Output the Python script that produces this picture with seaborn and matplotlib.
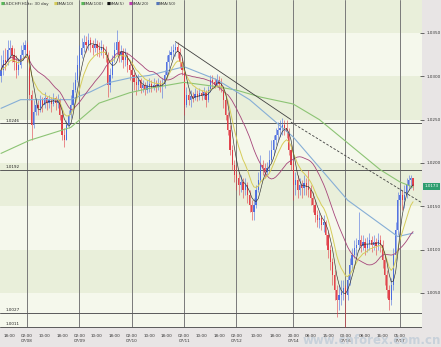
import numpy as np
import pandas as pd
import matplotlib
matplotlib.use("Agg")
import matplotlib.pyplot as plt
import matplotlib.transforms as mtransforms
import seaborn as sns

# ---------------- data (prices in pips above 1.0000, e.g. 307 -> 1.0307) ----------------
close_pips = [307, 319, 316, 330, 333, 325, 316, 307, 313, 325,
              330, 336, 325, 278, 244, 259, 267, 263, 273, 267,
              275, 269, 273, 268, 275, 269, 273, 255, 232, 226,
              244, 255, 267, 284, 296, 313, 325, 333, 340, 336,
              342, 336, 333, 337, 333, 330, 334, 328, 325, 290,
              301, 319, 330, 340, 325, 328, 319, 323, 313, 307,
              301, 293, 290, 296, 286, 290, 284, 289, 291, 286,
              290, 288, 291, 289, 291, 301, 316, 325, 328, 330,
              334, 328, 316, 307, 267, 278, 273, 277, 275, 280,
              276, 281, 277, 282, 273, 284, 296, 293, 290, 296,
              291, 286, 273, 255, 238, 215, 198, 186, 183, 175,
              178, 169, 175, 163, 151, 143, 151, 169, 180, 198,
              194, 190, 194, 203, 215, 226, 232, 238, 240, 244,
              240, 236, 215, 198, 175, 180, 169, 175, 171, 177,
              172, 169, 160, 151, 140, 134, 136, 128, 132, 117,
              100, 86, 71, 53, 42, 48, 51, 56, 48, 65,
              82, 94, 102, 105, 111, 104, 109, 102, 106, 111,
              105, 109, 104, 111, 105, 88, 71, 53, 42, 59,
              94, 123, 157, 163, 157, 163, 175, 180, 183, 173]
high_pips = [325, 330, 333, 342, 342, 336, 333, 325, 321, 336,
             340, 342, 340, 330, 284, 273, 275, 273, 278, 276,
             282, 277, 278, 276, 281, 277, 280, 275, 261, 240,
             250, 261, 278, 293, 305, 325, 336, 344, 348, 346,
             350, 345, 342, 344, 342, 340, 342, 337, 335, 328,
             310, 325, 340, 353, 342, 336, 333, 333, 328, 319,
             316, 305, 301, 303, 298, 296, 293, 296, 298, 296,
             298, 296, 298, 296, 298, 307, 325, 330, 335, 337,
             340, 340, 333, 321, 310, 288, 284, 284, 282, 286,
             284, 286, 284, 288, 284, 289, 301, 301, 298, 303,
             300, 298, 289, 275, 259, 244, 221, 203, 198, 190,
             186, 183, 183, 178, 169, 157, 160, 175, 190, 209,
             203, 200, 201, 215, 226, 232, 240, 247, 250, 252,
             250, 250, 240, 221, 203, 190, 186, 183, 180, 186,
             183, 192, 175, 166, 157, 146, 143, 140, 140, 134,
             120, 105, 90, 76, 59, 59, 65, 65, 59, 71,
             90, 102, 111, 113, 143, 117, 117, 113, 115, 119,
             116, 117, 113, 119, 117, 111, 94, 76, 59, 67,
             102, 132, 166, 171, 169, 175, 183, 186, 186, 183]
low_pips = [293, 301, 307, 313, 321, 316, 307, 298, 301, 310,
            319, 325, 316, 273, 226, 240, 255, 255, 259, 259,
            263, 261, 263, 259, 266, 261, 263, 250, 226, 218,
            226, 240, 252, 263, 282, 293, 310, 321, 328, 328,
            330, 328, 325, 328, 323, 322, 325, 321, 316, 276,
            282, 298, 316, 325, 316, 316, 310, 312, 305, 296,
            293, 284, 278, 284, 281, 282, 278, 281, 282, 282,
            284, 282, 284, 282, 275, 286, 298, 310, 319, 321,
            323, 321, 310, 301, 255, 265, 267, 265, 270, 273,
            271, 273, 273, 274, 265, 270, 282, 286, 286, 288,
            284, 282, 263, 250, 232, 209, 192, 178, 169, 163,
            166, 160, 163, 154, 143, 134, 134, 148, 166, 178,
            186, 183, 185, 190, 201, 209, 221, 226, 230, 232,
            232, 229, 209, 192, 157, 163, 160, 163, 160, 163,
            163, 161, 151, 143, 132, 126, 125, 123, 120, 105,
            90, 76, 59, 42, 22, 30, 36, 42, 11, 42,
            59, 76, 90, 94, 100, 97, 100, 94, 97, 100,
            97, 100, 94, 100, 97, 79, 59, 44, 30, 36,
            53, 88, 117, 151, 146, 148, 160, 169, 171, 169]
first_open_pips = 300

sma50_bars = [0, 9, 22, 32, 41, 50, 59, 68, 84, 99, 114, 134, 159, 182, 189]
sma50_pips = [263, 273, 273, 273, 282, 293, 298, 301, 311, 296, 273, 230, 157, 115, 119]
ema100_bars = [0, 13, 32, 45, 59, 68, 84, 99, 108, 119, 134, 146, 160, 174, 183, 189]
ema100_pips = [211, 226, 241, 269, 281, 286, 293, 288, 284, 276, 268, 250, 221, 192, 178, 172]

trend_bars = [80, 133]
trend_pips = [340, 250]
trend2_bars = [133, 193]
trend2_pips = [247, 154]

level_values = [1.0246, 1.0192, 1.0027, 1.0011]
level_labels = ["1.0246", "1.0192", "1.0027", "1.0011"]
ytick_values = [1.0050, 1.0100, 1.0150, 1.0200, 1.0250, 1.0300, 1.0350]
ytick_labels = ["1.0050", "1.0100", "1.0150", "1.0200", "1.0250", "1.0300", "1.0350"]
band_lows = [1.0050, 1.0150, 1.0250, 1.0350]

day_bars = [12, 36, 60, 84, 108, 134, 158, 183]
xtick_bars = [4, 12, 20, 28, 36, 44, 52, 60, 68, 76, 84, 92, 100, 108, 117, 126,
              134, 142, 150, 158, 167, 175, 183]
xtick_times = ["18:00", "02:00", "10:00", "18:00", "02:00", "10:00", "18:00", "02:00",
               "10:00", "18:00", "02:00", "10:00", "18:00", "02:00", "10:00", "18:00",
               "20:00", "08:00", "15:00", "00:00", "08:00", "16:00", "05:00"]
xtick_dates = ["", "07/08", "", "", "07/09", "", "", "07/10", "", "", "07/11", "", "",
               "07/12", "", "", "07/14", "", "", "07/16", "", "", "07/17"]
last_price = 1.0173
last_label = "1.0173"

legend_names = ["EMA(10)", "EMA(100)", "SMA(5)", "SMA(20)", "SMA(50)"]

# ---------------- derived ----------------
to_price = lambda p: 1.0 + np.asarray(p, dtype=float) / 10000.0
c = to_price(close_pips)
h = to_price(high_pips)
l = to_price(low_pips)
o = np.r_[to_price([first_open_pips]), c[:-1]]
n = len(c)
x = np.arange(n)

cs = pd.Series(c)
sma5 = cs.rolling(5, min_periods=1).mean()
ema10 = cs.ewm(span=10, adjust=False).mean()
sma20 = cs.rolling(20, min_periods=1).mean()

sns.set_style("white")
plt.rcParams["font.family"] = ["DejaVu Sans"]

W, H = 441, 347
fig = plt.figure(figsize=(W / 100, H / 100), dpi=100, facecolor="#e8e5e5")
ax = fig.add_axes([0, 19 / H, 422 / W, 328 / H])
ax.set_facecolor("#f5f8ec")
ax.set_xlim(-0.46, 193.1)
ax.set_ylim(1.00095, 1.0388)

for b in band_lows:
    ax.axhspan(b, b + 0.0050, color="#e9efda", lw=0, zorder=0)

for d in day_bars:
    ax.axvline(d, color="#7a7a7a", lw=0.7, zorder=1)
for v, lab in zip(level_values, level_labels):
    ax.axhline(v, color="#5a5a5a", lw=0.7, zorder=1)
    ax.text(2.0, v + 0.00005, lab, fontsize=3.0, color="#222222", va="bottom", ha="left", zorder=6)

# candles
up = c >= o
col = np.where(up, "#4466e0", "#e0323e")
lo_w = np.minimum(l, np.minimum(o, c))
hi_w = np.maximum(h, np.maximum(o, c))
ax.vlines(x, lo_w, hi_w, colors=col, lw=0.45, alpha=0.85, zorder=3)
body_lo = np.minimum(o, c)
body_h = np.maximum(np.abs(c - o), 0.00004)
ax.bar(x, body_h, bottom=body_lo, width=0.55, color=col, lw=0, alpha=0.9, zorder=3)

# moving averages
sns.lineplot(x=np.asarray(ema100_bars), y=to_price(ema100_pips), ax=ax, color="#8cc474",
             lw=0.8, estimator=None, sort=False, zorder=4)
sns.lineplot(x=np.asarray(sma50_bars), y=to_price(sma50_pips), ax=ax, color="#86aed6",
             lw=0.8, estimator=None, sort=False, zorder=4)
sns.lineplot(x=x, y=sma20.values, ax=ax, color="#a6457a", lw=0.6, estimator=None, sort=False, zorder=4)
sns.lineplot(x=x, y=ema10.values, ax=ax, color="#d6cc5a", lw=0.7, estimator=None, sort=False, zorder=4)
sns.lineplot(x=x, y=sma5.values, ax=ax, color="#303030", lw=0.45, estimator=None, sort=False, zorder=4)

# trend lines
ax.plot(trend_bars, to_price(trend_pips), color="#404040", lw=0.6, zorder=5)
ax.plot(trend2_bars, to_price(trend2_pips), color="#404040", lw=0.6, ls=(0, (3, 2)), zorder=5)

# axes styling
for s in ax.spines.values():
    s.set_visible(False)
ax.yaxis.tick_right()
ax.set_yticks(ytick_values)
ax.set_yticklabels(ytick_labels)
ax.tick_params(axis="y", which="both", direction="inout", length=3, width=0.5,
               labelsize=3.0, pad=1.5, colors="#333333")
ax.set_xticks(xtick_bars)
ax.set_xticklabels([t + ("\n" + d if d else "") for t, d in zip(xtick_times, xtick_dates)],
                   linespacing=1.4)
for lbl in ax.get_xticklabels():
    lbl.set_va("top")
ax.tick_params(axis="x", direction="out", length=2, width=0.5, labelsize=3.0, pad=2,
               colors="#333333")
ax.set_xlabel("")
ax.set_ylabel("")

# last price tag
tr = mtransforms.blended_transform_factory(ax.transAxes, ax.transData)
ax.text(1.005, last_price, last_label, transform=tr, fontsize=3.0, color="white",
        va="center", ha="left", clip_on=False, zorder=10,
        bbox=dict(boxstyle="square,pad=0.35", fc="#2e9e70", ec="none"))

# legend row
items = [(1, "#58b858", "USDCHF(H1)"), (28, None, "tc: 30 day"),
         (54, "#d6cc5a", legend_names[0]), (81, "#58b858", legend_names[1]),
         (107, "#111111", legend_names[2]), (129, "#c040b0", legend_names[3]),
         (156, "#5577bb", legend_names[4])]
for px, colr, txt in items:
    if colr is not None:
        fig.text(px / W, 1 - 4 / H, "\u25A0", fontsize=3.0, color=colr, va="center", ha="left")
        fig.text((px + 3) / W, 1 - 4 / H, txt, fontsize=3.0, color="#333333", va="center", ha="left")
    else:
        fig.text(px / W, 1 - 4 / H, txt, fontsize=3.0, color="#333333", va="center", ha="left")

fig.text(0.999, 0.0, "www.cnforex.com.cn", fontsize=8.5, color="#c0ccd8", alpha=0.8,
         fontweight="bold", ha="right", va="bottom", zorder=0)

fig.savefig("out.png", dpi=100, facecolor=fig.get_facecolor())
